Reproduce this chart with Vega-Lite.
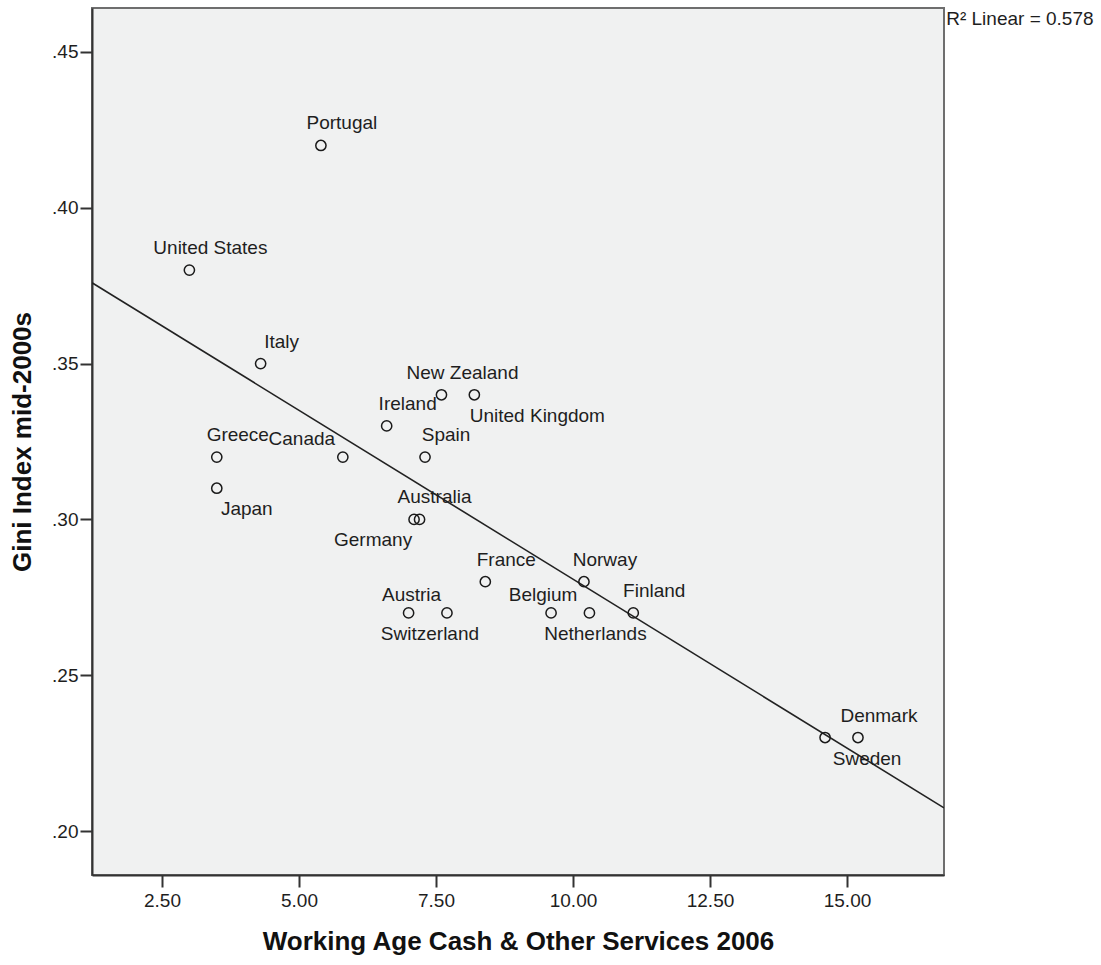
{
  "$schema": "https://vega.github.io/schema/vega-lite/v6.json",
  "autosize": {"type": "none"},
  "padding": {"left": 92, "top": 8, "right": 157, "bottom": 90},
  "width": 852,
  "height": 867,
  "background": "white",
  "config": {
    "font": "Liberation Sans",
    "view": {"fill": "#f0f1f1", "stroke": "#6e6e6e", "strokeWidth": 2},
    "axis": {
      "grid": false,
      "labelFont": "Liberation Sans",
      "labelFontSize": 19,
      "labelColor": "#1e1e1e",
      "tickColor": "#333333",
      "tickWidth": 2,
      "tickSize": 12,
      "domainColor": "#333333",
      "domainWidth": 2,
      "titleFont": "Liberation Sans",
      "titleFontSize": 26,
      "titleFontWeight": "bold",
      "titleColor": "#111111"
    }
  },
  "datasets": {
    "pts": [
      {"country": "Portugal", "cash": 5.4, "gini": 0.42},
      {"country": "United States", "cash": 3.0, "gini": 0.38},
      {"country": "Italy", "cash": 4.3, "gini": 0.35},
      {"country": "Greece", "cash": 3.5, "gini": 0.32},
      {"country": "Japan", "cash": 3.5, "gini": 0.31},
      {"country": "Canada", "cash": 5.8, "gini": 0.32},
      {"country": "Ireland", "cash": 6.6, "gini": 0.33},
      {"country": "New Zealand", "cash": 7.6, "gini": 0.34},
      {"country": "United Kingdom", "cash": 8.2, "gini": 0.34},
      {"country": "Spain", "cash": 7.3, "gini": 0.32},
      {"country": "Germany", "cash": 7.1, "gini": 0.30},
      {"country": "Australia", "cash": 7.2, "gini": 0.30},
      {"country": "France", "cash": 8.4, "gini": 0.28},
      {"country": "Austria", "cash": 7.0, "gini": 0.27},
      {"country": "Switzerland", "cash": 7.7, "gini": 0.27},
      {"country": "Belgium", "cash": 9.6, "gini": 0.27},
      {"country": "Netherlands", "cash": 10.3, "gini": 0.27},
      {"country": "Norway", "cash": 10.2, "gini": 0.28},
      {"country": "Finland", "cash": 11.1, "gini": 0.27},
      {"country": "Sweden", "cash": 14.6, "gini": 0.23},
      {"country": "Denmark", "cash": 15.2, "gini": 0.23}
    ],
    "note": [
      {"note": "R² Linear = 0.578"}
    ]
  },
  "layer": [
    {
      "data": {"name": "pts"},
      "transform": [{"regression": "gini", "on": "cash", "extent": [1.223, 16.77]}],
      "mark": {"type": "line", "color": "#222222", "strokeWidth": 1.6, "clip": true},
      "encoding": {
        "x": {
          "field": "cash",
          "type": "quantitative",
          "scale": {"domain": [1.223, 16.77], "nice": false, "zero": false},
          "axis": {
            "values": [2.5, 5, 7.5, 10, 12.5, 15],
            "format": ".2f",
            "labelPadding": 4,
            "titlePadding": 18,
            "title": "Working Age Cash & Other Services 2006"
          }
        },
        "y": {
          "field": "gini",
          "type": "quantitative",
          "scale": {"domain": [0.18588, 0.46412], "nice": false, "zero": false},
          "axis": {
            "values": [0.2, 0.25, 0.3, 0.35, 0.4, 0.45],
            "labelExpr": "replace(format(datum.value, '.2f'), '0.', '.')",
            "labelPadding": 2,
            "titlePadding": 16,
            "title": "Gini Index mid-2000s"
          }
        }
      }
    },
    {
      "data": {"name": "pts"},
      "mark": {"type": "point", "shape": "circle", "filled": false, "size": 105, "stroke": "#1a1a1a", "strokeWidth": 1.5, "opacity": 1},
      "encoding": {
        "x": {"field": "cash", "type": "quantitative"},
        "y": {"field": "gini", "type": "quantitative"}
      }
    },
    {
      "data": {"name": "pts"},
      "transform": [{"filter": {"field": "country", "oneOf": ["Portugal", "United States", "Italy", "New Zealand", "Ireland", "Spain", "France", "Norway", "Finland", "Greece", "Denmark"]}}],
      "mark": {"type": "text", "fontSize": 19, "baseline": "alphabetic", "align": "center", "dx": 21, "dy": -16, "color": "#1e1e1e"},
      "encoding": {"x": {"field": "cash", "type": "quantitative"}, "y": {"field": "gini", "type": "quantitative"}, "text": {"field": "country", "type": "nominal"}}
    },
    {
      "data": {"name": "pts"},
      "transform": [{"filter": {"field": "country", "oneOf": ["Australia"]}}],
      "mark": {"type": "text", "fontSize": 19, "baseline": "alphabetic", "align": "center", "dx": 15, "dy": -16, "color": "#1e1e1e"},
      "encoding": {"x": {"field": "cash", "type": "quantitative"}, "y": {"field": "gini", "type": "quantitative"}, "text": {"field": "country", "type": "nominal"}}
    },
    {
      "data": {"name": "pts"},
      "transform": [{"filter": {"field": "country", "oneOf": ["Canada"]}}],
      "mark": {"type": "text", "fontSize": 19, "baseline": "alphabetic", "align": "center", "dx": -41, "dy": -12, "color": "#1e1e1e"},
      "encoding": {"x": {"field": "cash", "type": "quantitative"}, "y": {"field": "gini", "type": "quantitative"}, "text": {"field": "country", "type": "nominal"}}
    },
    {
      "data": {"name": "pts"},
      "transform": [{"filter": {"field": "country", "oneOf": ["Belgium"]}}],
      "mark": {"type": "text", "fontSize": 19, "baseline": "alphabetic", "align": "center", "dx": -8, "dy": -12, "color": "#1e1e1e"},
      "encoding": {"x": {"field": "cash", "type": "quantitative"}, "y": {"field": "gini", "type": "quantitative"}, "text": {"field": "country", "type": "nominal"}}
    },
    {
      "data": {"name": "pts"},
      "transform": [{"filter": {"field": "country", "oneOf": ["Austria"]}}],
      "mark": {"type": "text", "fontSize": 19, "baseline": "alphabetic", "align": "center", "dx": 3, "dy": -12, "color": "#1e1e1e"},
      "encoding": {"x": {"field": "cash", "type": "quantitative"}, "y": {"field": "gini", "type": "quantitative"}, "text": {"field": "country", "type": "nominal"}}
    },
    {
      "data": {"name": "pts"},
      "transform": [{"filter": {"field": "country", "oneOf": ["Japan"]}}],
      "mark": {"type": "text", "fontSize": 19, "baseline": "alphabetic", "align": "center", "dx": 30, "dy": 27, "color": "#1e1e1e"},
      "encoding": {"x": {"field": "cash", "type": "quantitative"}, "y": {"field": "gini", "type": "quantitative"}, "text": {"field": "country", "type": "nominal"}}
    },
    {
      "data": {"name": "pts"},
      "transform": [{"filter": {"field": "country", "oneOf": ["United Kingdom"]}}],
      "mark": {"type": "text", "fontSize": 19, "baseline": "alphabetic", "align": "center", "dx": 63, "dy": 27, "color": "#1e1e1e"},
      "encoding": {"x": {"field": "cash", "type": "quantitative"}, "y": {"field": "gini", "type": "quantitative"}, "text": {"field": "country", "type": "nominal"}}
    },
    {
      "data": {"name": "pts"},
      "transform": [{"filter": {"field": "country", "oneOf": ["Germany"]}}],
      "mark": {"type": "text", "fontSize": 19, "baseline": "alphabetic", "align": "center", "dx": -41, "dy": 27, "color": "#1e1e1e"},
      "encoding": {"x": {"field": "cash", "type": "quantitative"}, "y": {"field": "gini", "type": "quantitative"}, "text": {"field": "country", "type": "nominal"}}
    },
    {
      "data": {"name": "pts"},
      "transform": [{"filter": {"field": "country", "oneOf": ["Switzerland"]}}],
      "mark": {"type": "text", "fontSize": 19, "baseline": "alphabetic", "align": "center", "dx": -17, "dy": 27, "color": "#1e1e1e"},
      "encoding": {"x": {"field": "cash", "type": "quantitative"}, "y": {"field": "gini", "type": "quantitative"}, "text": {"field": "country", "type": "nominal"}}
    },
    {
      "data": {"name": "pts"},
      "transform": [{"filter": {"field": "country", "oneOf": ["Netherlands"]}}],
      "mark": {"type": "text", "fontSize": 19, "baseline": "alphabetic", "align": "center", "dx": 6, "dy": 27, "color": "#1e1e1e"},
      "encoding": {"x": {"field": "cash", "type": "quantitative"}, "y": {"field": "gini", "type": "quantitative"}, "text": {"field": "country", "type": "nominal"}}
    },
    {
      "data": {"name": "pts"},
      "transform": [{"filter": {"field": "country", "oneOf": ["Sweden"]}}],
      "mark": {"type": "text", "fontSize": 19, "baseline": "alphabetic", "align": "center", "dx": 42, "dy": 27, "color": "#1e1e1e"},
      "encoding": {"x": {"field": "cash", "type": "quantitative"}, "y": {"field": "gini", "type": "quantitative"}, "text": {"field": "country", "type": "nominal"}}
    },
    {
      "data": {"name": "note"},
      "mark": {"type": "text", "fontSize": 19, "baseline": "alphabetic", "align": "left", "dx": 17, "dy": 4, "color": "#1e1e1e", "clip": false},
      "encoding": {
        "x": {"datum": 16.5, "type": "quantitative"},
        "y": {"datum": 0.46, "type": "quantitative"},
        "text": {"field": "note", "type": "nominal"}
      }
    }
  ]
}
